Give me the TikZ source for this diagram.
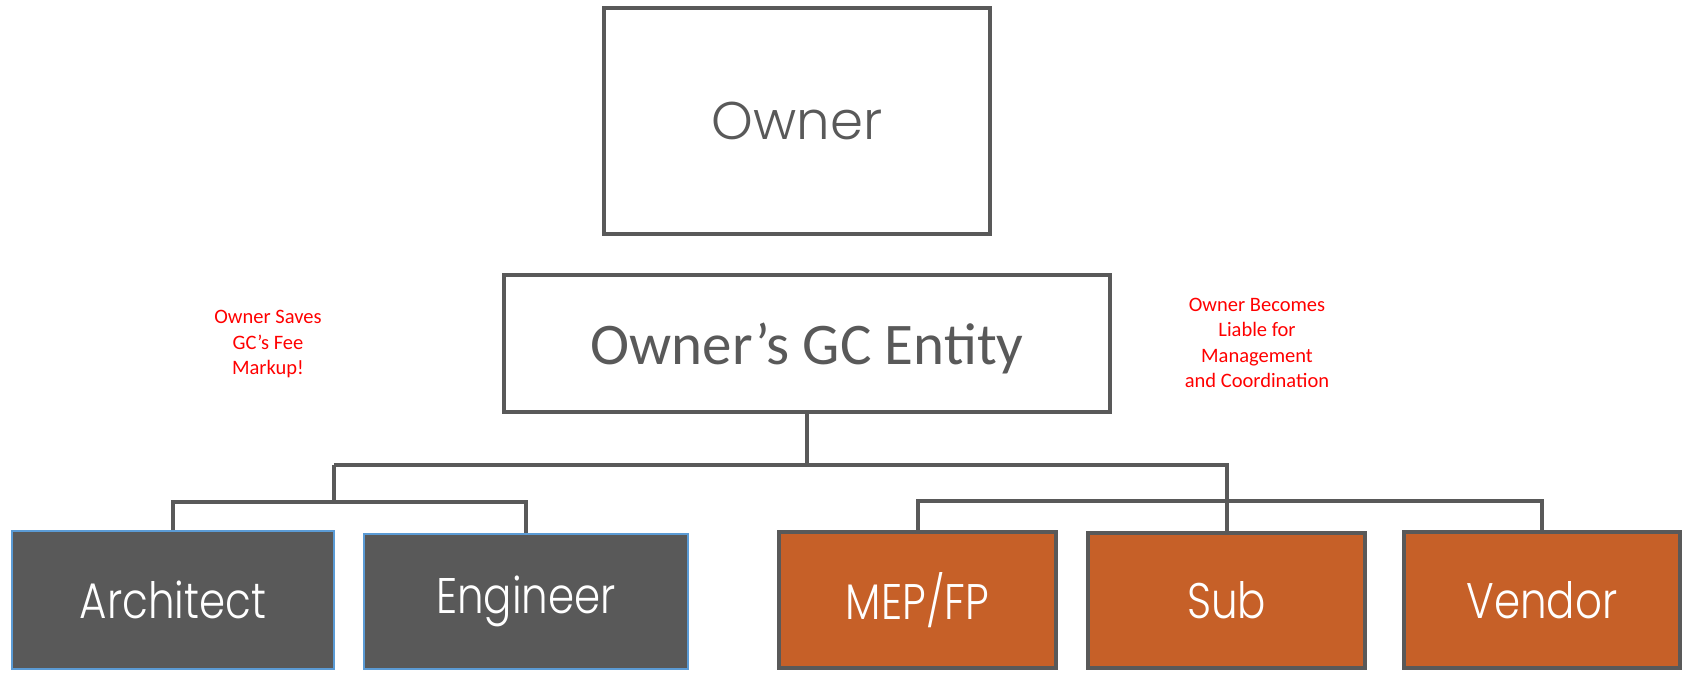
\documentclass[tikz,border=0pt]{standalone}
\usepackage{fontspec}
\usepackage{tikz}
\usetikzlibrary{positioning}
\setmainfont{Carlito}
\newfontfamily\geofont{Poppins Light}
\newfontfamily\narrowfont{Poppins Light}[FakeStretch=0.84]
\definecolor{boxgray}{HTML}{595959}
\definecolor{rust}{HTML}{C66028}
\definecolor{edgeblue}{HTML}{5B9BD5}
\tikzset{
  link/.style={draw=boxgray, line width=4pt},
  topbox/.style={draw=boxgray, line width=4.5pt, fill=white, text=boxgray},
  staffbox/.style={draw=edgeblue, line width=2pt, fill=boxgray, text=white,
    font=\narrowfont\fontsize{50}{56}\selectfont},
  tradebox/.style={draw=boxgray, line width=4pt, fill=rust, text=white,
    font=\narrowfont\fontsize{50}{56}\selectfont},
  note/.style={text=red, align=center, font=\fontsize{20.5}{25.5}\selectfont}
}

\begin{document}
\begin{tikzpicture}[x=1pt, y=-1pt]
    \useasboundingbox (0,0) rectangle (1685,672);

    \node [topbox, minimum width=386pt, minimum height=226pt,
      font=\geofont\fontsize{53}{60}\selectfont] (owner) at (797,121) {Owner};
    \node [topbox, line width=4pt, minimum width=606pt, minimum height=137pt, text depth=0pt,
      font=\fontsize{59}{66}\selectfont] (gc) at (807,343.5) {Owner’s GC Entity};

    \node [staffbox, minimum width=322pt, minimum height=138pt] (arch) at (173,600) {Architect};
    \node [staffbox, minimum width=324pt, minimum height=135pt] (eng) at (526,601.5) {Engineer};

    \node [tradebox, minimum width=277pt, minimum height=136pt] (mep) at (917.5,600) {MEP/FP};
    \node [tradebox, minimum width=277pt, minimum height=135pt] (sub) at (1226.5,600.5) {Sub};
    \node [tradebox, minimum width=276pt, minimum height=136pt] (vendor) at (1542,600) {Vendor};

    \node [note] (saves) at (268,344) {Owner Saves\\GC’s Fee\\Markup!};
    \node [note] (liable) at (1257,343) {Owner Becomes\\Liable for\\Management\\and Coordination};

    % main bus under the GC
    \coordinate (busL) at (334,465);
    \coordinate (busR) at (sub.north |- busL);
    \draw [link] (gc.south) -- (gc.south |- busL);
    \draw [link] (busL) -- (busR) -- (sub.north);

    % design side
    \coordinate (splitA) at (334,502);
    \draw [link] (busL) -- (splitA);
    \draw [link] (arch.north) |- (splitA) -| (eng.north);

    % trade side
    \coordinate (splitB) at (1226.5,501);
    \draw [link] (mep.north) |- (splitB) -| (vendor.north);
\end{tikzpicture}
\end{document}
